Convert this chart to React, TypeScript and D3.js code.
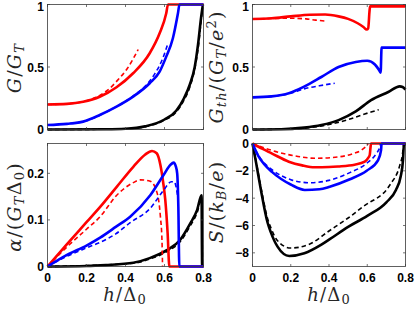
import React from 'react';
import * as d3 from 'd3';

type P = [number, number];

// ---- ticks ----
const hTicks = [0, 0.2, 0.4, 0.6, 0.8];
const hTickLabels = ['0', '0.2', '0.4', '0.6', '0.8'];
const gTicks = [0, 0.5, 1];
const gTickLabels = ['0', '0.5', '1'];
const aTicks = [0, 0.1, 0.2];
const aTickLabels = ['0', '0.1', '0.2'];
const sTicks = [0, -2, -4, -6, -8];
const sTickLabels = ['0', '\u22122', '\u22124', '\u22126', '\u22128'];

// ---- G/G_T ----
const gRedSolid: P[] = [[0, 0.2], [0.1, 0.205], [0.183, 0.222], [0.268, 0.262], [0.354, 0.338], [0.439, 0.45], [0.524, 0.61], [0.575, 0.77], [0.609, 0.93], [0.618, 1], [0.8, 1]];
const gRedDash: P[] = [[0, 0.2], [0.1, 0.205], [0.2, 0.23], [0.27, 0.275], [0.32, 0.33], [0.36, 0.395], [0.41, 0.49], [0.465, 0.64]];
const gBlueSolid: P[] = [[0, 0.036], [0.1, 0.045], [0.183, 0.063], [0.268, 0.116], [0.354, 0.183], [0.439, 0.263], [0.524, 0.37], [0.575, 0.463], [0.609, 0.583], [0.643, 0.73], [0.669, 0.93], [0.677, 1], [0.8, 1]];
const gBlueDash: P[] = [[0, 0.036], [0.1, 0.045], [0.2, 0.07], [0.3, 0.14], [0.4, 0.225], [0.45, 0.28], [0.5, 0.345], [0.55, 0.445], [0.59, 0.565], [0.618, 0.69]];
const gBlackSolid: P[] = [[0, 0], [0.3, 0.002], [0.4, 0.006], [0.5, 0.025], [0.6, 0.08], [0.66, 0.15], [0.7, 0.25], [0.73, 0.36], [0.755, 0.5], [0.772, 0.68], [0.788, 0.9], [0.797, 1]];
const gBlackDash: P[] = [[0, 0], [0.3, 0.002], [0.4, 0.005], [0.5, 0.022], [0.6, 0.075], [0.66, 0.14], [0.7, 0.235], [0.73, 0.34], [0.757, 0.5], [0.775, 0.68], [0.79, 0.9], [0.798, 0.99]];

// ---- G_th ----
const tRedSolid: P[] = [[0, 0.884], [0.1, 0.89], [0.2, 0.905], [0.3, 0.918], [0.38, 0.92], [0.45, 0.905], [0.5, 0.885], [0.55, 0.85], [0.58, 0.82], [0.597, 0.8], [0.605, 0.81], [0.612, 0.95], [0.615, 0.985], [0.8, 0.985]];
const tRedDash: P[] = [[0, 0.884], [0.1, 0.888], [0.2, 0.89], [0.28, 0.885], [0.33, 0.875], [0.38, 0.868]];
const tBlueSolid: P[] = [[0, 0.257], [0.1, 0.265], [0.19, 0.29], [0.27, 0.343], [0.36, 0.42], [0.45, 0.5], [0.54, 0.54], [0.6, 0.55], [0.64, 0.52], [0.66, 0.48], [0.67, 0.455], [0.675, 0.655], [0.8, 0.655]];
const tBlueDash: P[] = [[0, 0.257], [0.1, 0.265], [0.2, 0.29], [0.27, 0.325], [0.35, 0.35], [0.43, 0.37]];
const tBlackSolid: P[] = [[0, 0], [0.15, 0.002], [0.27, 0.015], [0.36, 0.036], [0.45, 0.075], [0.54, 0.145], [0.62, 0.235], [0.71, 0.3], [0.77, 0.345], [0.785, 0.34], [0.8, 0.32]];
const tBlackDash: P[] = [[0, 0], [0.2, 0.004], [0.3, 0.015], [0.4, 0.04], [0.48, 0.07], [0.57, 0.115], [0.62, 0.14], [0.66, 0.158]];

// ---- alpha ----
const aRedSolid: P[] = [[0, 0], [0.1, 0.048], [0.2, 0.095], [0.27, 0.128], [0.355, 0.171], [0.44, 0.214], [0.5, 0.24], [0.536, 0.248], [0.56, 0.243], [0.579, 0.218], [0.595, 0.175], [0.604, 0.143], [0.616, 0.072], [0.625, 0], [0.8, 0]];
const aRedDash: P[] = [[0, 0], [0.1, 0.042], [0.2, 0.08], [0.27, 0.107], [0.355, 0.153], [0.44, 0.18], [0.476, 0.186], [0.527, 0.183], [0.562, 0.158], [0.579, 0.107], [0.587, 0.057], [0.59, 0]];
const aBlueSolid: P[] = [[0, 0], [0.1, 0.025], [0.2, 0.045], [0.27, 0.062], [0.35, 0.085], [0.424, 0.107], [0.527, 0.153], [0.596, 0.197], [0.63, 0.218], [0.647, 0.223], [0.658, 0.215], [0.665, 0.2], [0.671, 0.128], [0.676, 0], [0.8, 0]];
const aBlueDash: P[] = [[0, 0], [0.1, 0.022], [0.2, 0.04], [0.27, 0.052], [0.35, 0.07], [0.424, 0.094], [0.527, 0.125], [0.596, 0.164], [0.635, 0.182], [0.65, 0.182], [0.66, 0.17], [0.668, 0.15]];
const aBlackSolid: P[] = [[0, 0], [0.2, 0.001], [0.3, 0.003], [0.44, 0.008], [0.524, 0.018], [0.612, 0.035], [0.68, 0.057], [0.733, 0.093], [0.767, 0.121], [0.79, 0.153], [0.793, 0], [0.8, 0]];
const aBlackDash: P[] = [[0, 0], [0.44, 0.007], [0.524, 0.016], [0.612, 0.032], [0.68, 0.053], [0.733, 0.088], [0.767, 0.115], [0.79, 0.145], [0.795, 0]];

// ---- S ----
const sRedSolid: P[] = [[0, 0], [0.05, -0.38], [0.1, -0.72], [0.19, -1.33], [0.26, -1.6], [0.325, -1.74], [0.4, -1.72], [0.447, -1.68], [0.534, -1.55], [0.587, -1.33], [0.605, -1.05], [0.613, -0.84], [0.617, -0.3], [0.62, 0], [0.8, 0]];
const sRedDash: P[] = [[0, 0], [0.1, -0.5], [0.2, -0.85], [0.33, -1.08], [0.45, -0.98], [0.53, -0.72], [0.57, -0.48], [0.597, -0.15], [0.605, 0]];
const sBlueSolid: P[] = [[0, 0], [0.03, -0.9], [0.06, -1.5], [0.1, -2.06], [0.15, -2.6], [0.2, -3.0], [0.273, -3.4], [0.35, -3.35], [0.404, -3.16], [0.509, -2.62], [0.597, -1.99], [0.657, -1.21], [0.672, -0.5], [0.675, 0], [0.8, 0]];
const sBlueDash: P[] = [[0, 0], [0.03, -0.85], [0.06, -1.4], [0.1, -1.9], [0.15, -2.35], [0.2, -2.65], [0.3, -2.87], [0.4, -2.7], [0.509, -2.13], [0.597, -1.45], [0.648, -0.72], [0.666, -0.24], [0.67, 0]];
const sBlackSolid: P[] = [[0, 0], [0.02, -1.5], [0.044, -3.4], [0.079, -5.8], [0.096, -6.5], [0.131, -7.55], [0.192, -8.23], [0.271, -8.03], [0.358, -7.42], [0.404, -7.0], [0.5, -6.1], [0.6, -5.3], [0.7, -4.3], [0.75, -3.4], [0.775, -2.4], [0.787, -1.2], [0.792, 0], [0.8, 0]];
const sBlackDash: P[] = [[0, 0], [0.02, -1.4], [0.044, -3.2], [0.079, -5.5], [0.1, -6.3], [0.13, -7.1], [0.2, -7.65], [0.3, -7.35], [0.4, -6.4], [0.5, -5.45], [0.58, -4.6], [0.72, -3.0], [0.77, -1.6], [0.785, -0.7], [0.79, 0]];

type Series = { data: P[]; color: string; dashed: boolean };

const RED = '#ff0000';
const BLUE = '#0000ff';
const BLACK = '#000000';

const mk = (bs: P[], bd: P[], rs: P[], rd: P[], us: P[], ud: P[]): Series[] => [
  { data: bs, color: BLACK, dashed: false },
  { data: bd, color: BLACK, dashed: true },
  { data: rs, color: RED, dashed: false },
  { data: rd, color: RED, dashed: true },
  { data: us, color: BLUE, dashed: false },
  { data: ud, color: BLUE, dashed: true },
];

const LABEL_COLOR = '#262626';
const BOX_COLOR = '#3a3a3a';

type PanelProps = {
  x0: number; x1: number; y0: number; y1: number;
  yDomain: [number, number];
  yTicks: number[]; yTickLabels: string[];
  showX: boolean;
  series: Series[];
};

function Panel({ x0, x1, y0, y1, yDomain, yTicks, yTickLabels, showX, series }: PanelProps) {
  const xs = d3.scaleLinear().domain([0, 0.8]).range([x0, x1]);
  const ys = d3.scaleLinear().domain(yDomain).range([y1, y0]);
  const line = d3.line<P>().x(d => xs(d[0])).y(d => ys(d[1])).curve(d3.curveMonotoneX);
  const tl = 2.5;
  return (
    <g>
      {series.map((s, i) => (
        <path key={i} d={line(s.data) || ''} fill="none" stroke={s.color}
          strokeWidth={s.dashed ? 1.6 : 2.6} strokeDasharray={s.dashed ? '4.5,3' : undefined}
          strokeLinejoin="round" />
      ))}
      <rect x={x0} y={y0} width={x1 - x0} height={y1 - y0} fill="none" stroke={BOX_COLOR} strokeWidth={0.8} />
      {hTicks.map((t, i) => (
        <g key={'xt' + i}>
          <line x1={xs(t)} x2={xs(t)} y1={y1} y2={y1 - tl} stroke={BOX_COLOR} strokeWidth={0.7} />
          <line x1={xs(t)} x2={xs(t)} y1={y0} y2={y0 + tl} stroke={BOX_COLOR} strokeWidth={0.7} />
          {showX && (
            <text x={xs(t)} y={y1 + 15} textAnchor="middle" fontFamily="'Liberation Sans', Arial, sans-serif"
              fontWeight="bold" fontSize={12} fill="#000">{hTickLabels[i]}</text>
          )}
        </g>
      ))}
      {yTicks.map((t, i) => (
        <g key={'yt' + i}>
          <line x1={x0} x2={x0 + tl} y1={ys(t)} y2={ys(t)} stroke={BOX_COLOR} strokeWidth={0.7} />
          <line x1={x1} x2={x1 - tl} y1={ys(t)} y2={ys(t)} stroke={BOX_COLOR} strokeWidth={0.7} />
          <text x={x0 - 3.5} y={Math.max(ys(t) + 4.5, 10.5)} textAnchor="end" fontFamily="'Liberation Sans', Arial, sans-serif"
            fontWeight="bold" fontSize={12} fill="#000">{yTickLabels[i]}</text>
        </g>
      ))}
    </g>
  );
}

const SERIF = "'DejaVu Serif', 'Liberation Serif', serif";
const FS = 19;
const SUB = 13;
const LS = 1.2;

const It = ({ children }: { children: React.ReactNode }) => <tspan fontStyle="italic">{children}</tspan>;
const Up = ({ children }: { children: React.ReactNode }) => <tspan fontStyle="normal">{children}</tspan>;

export default function App() {
  const L = { x0: 47.5, x1: 203.5 };
  const R = { x0: 252.5, x1: 405.5 };
  const T = { y0: 4.5, y1: 129.5 };
  const B = { y0: 143.5, y1: 266.5 };
  const lab = { textAnchor: 'middle' as const, fontFamily: SERIF, fontSize: FS, fill: LABEL_COLOR, letterSpacing: LS };
  const xlab = { ...lab, fontSize: 18 };
  return (
    <svg width={415} height={313} style={{ position: 'absolute', left: 0, top: 0, background: '#fff' }}>
      <rect x={0} y={0} width={415} height={313} fill="#fff" />
      <Panel {...L} {...T} yDomain={[0, 1]} yTicks={gTicks} yTickLabels={gTickLabels} showX={false}
        series={mk(gBlackSolid, gBlackDash, gRedSolid, gRedDash, gBlueSolid, gBlueDash)} />
      <Panel {...R} {...T} yDomain={[0, 1]} yTicks={gTicks} yTickLabels={gTickLabels} showX={false}
        series={mk(tBlackSolid, tBlackDash, tRedSolid, tRedDash, tBlueSolid, tBlueDash)} />
      <Panel {...L} {...B} yDomain={[0, 0.264]} yTicks={aTicks} yTickLabels={aTickLabels} showX={true}
        series={mk(aBlackSolid, aBlackDash, aRedSolid, aRedDash, aBlueSolid, aBlueDash)} />
      <Panel {...R} {...B} yDomain={[-9, 0]} yTicks={sTicks} yTickLabels={sTickLabels} showX={true}
        series={mk(sBlackSolid, sBlackDash, sRedSolid, sRedDash, sBlueSolid, sBlueDash)} />

      {/* axis labels */}
      <text transform="translate(21,68) rotate(-90)" {...lab}>
        <It>G</It><Up>/</Up><It>G</It><tspan fontStyle="italic" fontSize={SUB} dy={3}>T</tspan>
      </text>
      <text transform="translate(21,207) rotate(-90)" {...lab}>
        <It>α</It><Up>/(</Up><It>G</It><tspan fontStyle="italic" fontSize={SUB} dy={3}>T</tspan><tspan dy={-3}>Δ</tspan><tspan fontSize={SUB} dy={3}>0</tspan><tspan dy={-3}>)</tspan>
      </text>
      <text transform="translate(223,67) rotate(-90)" {...lab}>
        <It>G</It><tspan fontStyle="italic" fontSize={SUB} dy={3}>th</tspan><tspan dy={-3}>/(</tspan><It>G</It><tspan fontStyle="italic" fontSize={SUB} dy={3}>T</tspan><tspan dy={-3}>/</tspan><It>e</It><tspan fontSize={SUB} dy={-7}>2</tspan><tspan dy={7}>)</tspan>
      </text>
      <text transform="translate(223,202) rotate(-90)" {...lab}>
        <It>S</It><Up>/(</Up><It>k</It><tspan fontStyle="italic" fontSize={SUB} dy={3}>B</tspan><tspan dy={-3}>/</tspan><It>e</It><Up>)</Up>
      </text>
      <text x={125} y={301} {...xlab}>
        <It>h</It><Up>/Δ</Up><tspan fontSize={SUB} dy={3}>0</tspan>
      </text>
      <text x={329} y={301} {...xlab}>
        <It>h</It><Up>/Δ</Up><tspan fontSize={SUB} dy={3}>0</tspan>
      </text>
    </svg>
  );
}
